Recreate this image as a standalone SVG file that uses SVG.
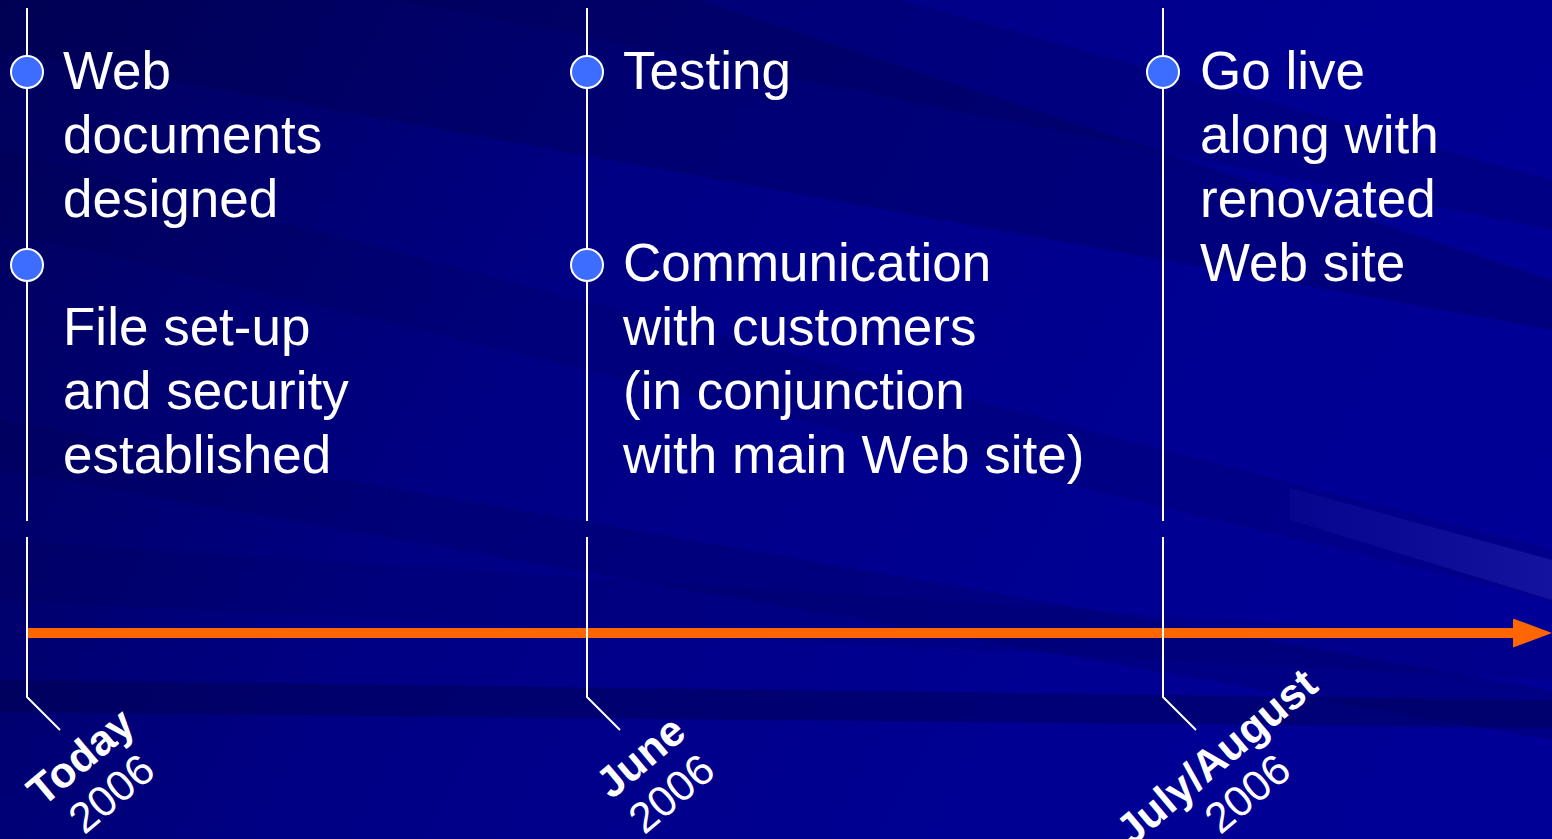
<svg xmlns="http://www.w3.org/2000/svg" width="1552" height="839" viewBox="0 0 1552 839">
<defs>
<style>
.line{stroke:#ffffff;stroke-width:2;fill:none}
.bullet{fill:#3d6dff;stroke:#ffffff;stroke-width:2}
.txt{font-family:"Liberation Sans",Arial,sans-serif;font-size:53px;fill:#ffffff}
.lbl{font-family:"Liberation Sans",Arial,sans-serif;font-size:43px;fill:#ffffff;text-anchor:middle}
.lbl .b{font-weight:bold}
.band{fill:#000040}
</style>
<linearGradient id="bg" x1="0" y1="0" x2="1552" y2="839" gradientUnits="userSpaceOnUse">
<stop offset="0" stop-color="#00005a"/>
<stop offset="0.35" stop-color="#000084"/>
<stop offset="0.7" stop-color="#000092"/>
<stop offset="1" stop-color="#000098"/>
</linearGradient>
<linearGradient id="streak" x1="1290" y1="0" x2="1552" y2="0" gradientUnits="userSpaceOnUse">
<stop offset="0" stop-color="#3030c0" stop-opacity="0.12"/>
<stop offset="1" stop-color="#4040d0" stop-opacity="0.3"/>
</linearGradient>
<marker id="ah" markerUnits="userSpaceOnUse" markerWidth="40" markerHeight="30" refX="0" refY="14.5" orient="auto">
<path d="M0,0 L39,14.5 L0,29 Z" fill="#ff6600"/>
</marker>
</defs>
<g id="background">
<rect width="1552" height="839" fill="url(#bg)"/>
<polygon class="band" opacity="0.25" points="0,0 700,0 1552,280 1552,330 0,50"/>
<polygon class="band" opacity="0.15" points="0,150 0,230 1552,600 1552,550"/>
<polygon class="band" opacity="0.18" points="0,420 0,470 1552,740 1552,690"/>
<polygon class="band" opacity="0.18" points="400,0 900,0 1552,180 1552,230"/>
<polygon class="band" opacity="0.35" points="0,680 0,712 1552,728 1552,700"/>
<polygon class="band" opacity="0.12" points="0,540 0,600 1552,680 1552,640"/>
<polygon fill="url(#streak)" points="1290,488 1552,560 1552,600 1290,520"/>
</g>
<g id="connectors">
<line id="timeline-arrow" x1="27" y1="633" x2="1513" y2="633" stroke="#ff6600" stroke-width="10" marker-end="url(#ah)"/>
</g>
<g id="node-today">
<path class="line" d="M27,8 V521"/>
<path class="line" d="M27,537 V697 L60,730"/>
<circle class="bullet" cx="27" cy="72" r="16"/>
<circle class="bullet" cx="27" cy="265" r="16"/>
<text class="txt" x="63"><tspan x="63" y="89">Web</tspan><tspan x="63" y="153">documents</tspan><tspan x="63" y="217">designed</tspan><tspan x="63" y="345">File set-up</tspan><tspan x="63" y="409">and security</tspan><tspan x="63" y="473">established</tspan></text>
<text class="lbl" transform="translate(90,768) rotate(-40)"><tspan class="b" x="0" y="0">Today</tspan><tspan x="0" y="48">2006</tspan></text>
</g>
<g id="node-june">
<path class="line" d="M587,8 V521"/>
<path class="line" d="M587,537 V697 L620,730"/>
<circle class="bullet" cx="587" cy="72" r="16"/>
<circle class="bullet" cx="587" cy="265" r="16"/>
<text class="txt" x="623"><tspan x="623" y="89">Testing</tspan><tspan x="623" y="281">Communication</tspan><tspan x="623" y="345">with customers</tspan><tspan x="623" y="409">(in conjunction</tspan><tspan x="623" y="473">with main Web site)</tspan></text>
<text class="lbl" transform="translate(650,768) rotate(-40)"><tspan class="b" x="0" y="0">June</tspan><tspan x="0" y="48">2006</tspan></text>
</g>
<g id="node-julyaugust">
<path class="line" d="M1163,8 V521"/>
<path class="line" d="M1163,537 V697 L1196,730"/>
<circle class="bullet" cx="1163" cy="72" r="16"/>
<text class="txt" x="1200"><tspan x="1200" y="89">Go live</tspan><tspan x="1200" y="153">along with</tspan><tspan x="1200" y="217">renovated</tspan><tspan x="1200" y="281">Web site</tspan></text>
<text class="lbl" transform="translate(1226,768) rotate(-40)"><tspan class="b" x="0" y="0">July/August</tspan><tspan x="0" y="48">2006</tspan></text>
</g>
</svg>
